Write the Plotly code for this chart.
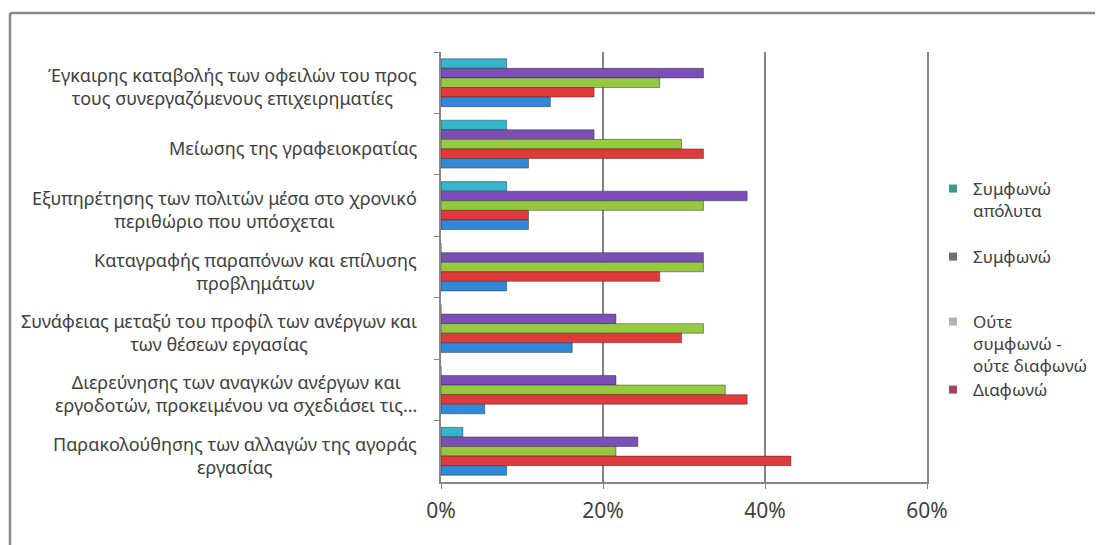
import plotly.graph_objects as go

categories = [
    "Έγκαιρης καταβολής των οφειλών του προς<br>τους συνεργαζόμενους επιχειρηματίες",
    "Μείωσης της γραφειοκρατίας",
    "Εξυπηρέτησης των πολιτών μέσα στο χρονικό<br>περιθώριο που υπόσχεται",
    "Καταγραφής παραπόνων και επίλυσης<br>προβλημάτων",
    "Συνάφειας μεταξύ του προφίλ των ανέργων και<br>των θέσεων εργασίας",
    "Διερεύνησης των αναγκών ανέργων και<br>εργοδοτών, προκειμένου να σχεδιάσει τις...",
    "Παρακολούθησης των αλλαγών της αγοράς<br>εργασίας",
]

series_names = ["Συμφωνώ απόλυτα", "Συμφωνώ", "Ούτε συμφωνώ - ούτε διαφωνώ", "Διαφωνώ", "Διαφωνώ απόλυτα"]
legend_labels = ["Συμφωνώ<br>απόλυτα", "Συμφωνώ", "Ούτε<br>συμφωνώ -<br>ούτε διαφωνώ", "Διαφωνώ"]

symfono_apolyta = [8.1, 8.1, 8.1, 0.0, 0.0, 0.0, 2.7]
symfono = [32.4, 18.9, 37.8, 32.4, 21.6, 21.6, 24.3]
oute = [27.0, 29.7, 32.4, 32.4, 32.4, 35.1, 21.6]
diafono = [18.9, 32.4, 10.8, 27.0, 29.7, 37.8, 43.2]
diafono_apolyta = [13.5, 10.8, 10.8, 8.1, 16.2, 5.4, 8.1]

x_ticks = [0, 20, 40, 60]
x_tick_labels = ["0%", "20%", "40%", "60%"]

bar_colors = ["#36b4ca", "#7b4fb6", "#96c93f", "#e03b3c", "#2f88d8"]
legend_colors = ["#3b9a86", "#6f6f6f", "#b3b3b3", "#a3445f"]

FONT = "Noto Sans"
W, H = 1103, 545
OFF = 8  # page body margin
# target screen pixels: plot area x 441..927, y 52..482
L = 441 - OFF
T = 52 - OFF
R = W - (927 - OFF)
B = H - (482 - OFF)
pw, ph = W - L - R, H - T - B

def px_x(p):
    return (p - OFF - L) / pw

def px_y(p):
    return (H - B - (p - OFF)) / ph

fig = go.Figure()
all_series = [symfono_apolyta, symfono, oute, diafono, diafono_apolyta]
for name, vals, col in zip(series_names, all_series, bar_colors):
    fig.add_trace(go.Bar(
        y=categories, x=vals, name=name, orientation="h",
        marker=dict(color=col, line=dict(color="rgba(40,40,40,0.45)", width=1)),
        showlegend=False,
    ))

# legend entries (each in its own legend box to mimic the reference spacing)
legend_names = ["legend", "legend2", "legend3", "legend4"]
legend_tops = [171, 239, 304, 372]
for lab, col, lg in zip(legend_labels, legend_colors, legend_names):
    fig.add_trace(go.Scatter(
        y=[None], x=[None], name=lab, mode="markers",
        marker=dict(color=col, symbol="square", size=8), legend=lg, showlegend=True,
    ))

legend_common = dict(
    x=px_x(933), xanchor="left", yanchor="top",
    bgcolor="rgba(0,0,0,0)", borderwidth=0,
    font=dict(family=FONT, size=17, color="#404040"),
    valign="top", itemwidth=30, tracegroupgap=0,
)
layout_legends = {}
for lg, top in zip(legend_names, legend_tops):
    d = dict(legend_common)
    d["y"] = px_y(top)
    layout_legends[lg] = d

annotations = []
for c in categories:
    annotations.append(dict(
        x=px_x(419), xref="paper", y=c, yref="y", yshift=-4,
        text=c, showarrow=False, xanchor="right", yanchor="middle",
        align="center", font=dict(family=FONT, size=18, color="#404040"),
    ))

shapes = [
    dict(type="line", xref="paper", yref="paper", x0=px_x(10), x1=px_x(1120),
         y0=px_y(13), y1=px_y(13), line=dict(color="#8a8a8a", width=2.5)),
    dict(type="line", xref="paper", yref="paper", x0=px_x(10), x1=px_x(10),
         y0=px_y(13), y1=px_y(570), line=dict(color="#8a8a8a", width=2.5)),
]

fig.update_layout(
    width=W, height=H,
    margin=dict(l=L, r=R, t=T, b=B, pad=0, autoexpand=False),
    paper_bgcolor="white", plot_bgcolor="white",
    barmode="group", bargap=0.22, bargroupgap=0,
    font=dict(family=FONT, color="#404040"),
    annotations=annotations, shapes=shapes,
    **layout_legends,
)
fig.update_xaxes(
    range=[0, 60], tickvals=x_ticks, ticktext=x_tick_labels,
    showgrid=True, gridcolor="#858585", gridwidth=1.5,
    showline=True, linecolor="#858585", linewidth=1.5,
    ticks="outside", ticklen=5, tickcolor="#858585",
    tickfont=dict(family=FONT, size=21, color="#404040"),
    ticklabelstandoff=4,
    zeroline=False, fixedrange=True, automargin=False,
)
fig.update_yaxes(
    autorange="reversed", showticklabels=False,
    showline=True, linecolor="#858585", linewidth=1.5, mirror=True,
    ticks="outside", ticklen=5, tickcolor="#858585", tickson="boundaries",
    showgrid=False, automargin=False,
)

fig.write_html("out.html")
